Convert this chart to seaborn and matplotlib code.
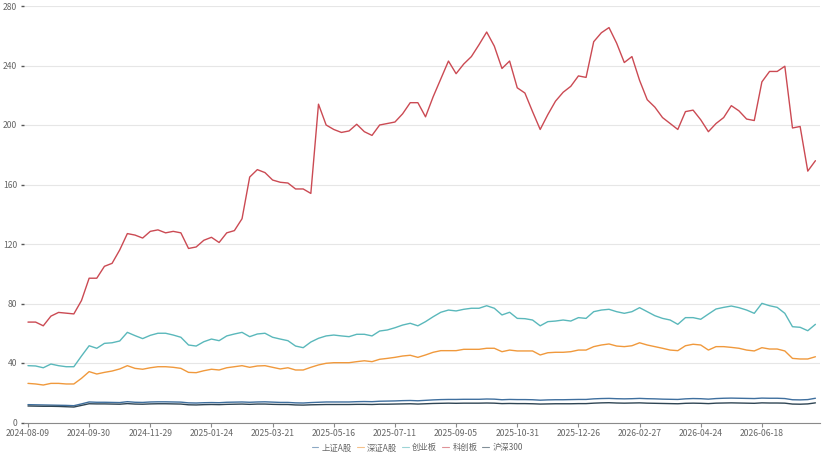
import numpy as np
import pandas as pd
import matplotlib
matplotlib.use("Agg")
import matplotlib.pyplot as plt
import seaborn as sns

series_names = ["上证A股", "深证A股", "创业板", "科创板", "沪深300"]

tick_labels = ["2024-08-09", "2024-09-30", "2024-11-29", "2025-01-24", "2025-03-21",
               "2025-05-16", "2025-07-11", "2025-09-05", "2025-10-31", "2025-12-26",
               "2026-02-27", "2026-04-24", "2026-06-18"]
tick_step = 8

kechuang = [67.5, 67.5, 65, 71.5, 74, 73.5, 73, 82, 97, 97,
            105, 107, 116, 127, 126, 124, 128.5, 129.5, 127.5, 128.5,
            127.5, 117, 118, 122.5, 124.5, 121, 127.5, 129, 137, 165,
            170, 168, 163, 161.5, 161, 157, 157, 154, 214, 200,
            197, 195, 196, 200.5, 195.5, 193, 200, 201, 202, 207.5,
            215, 215, 205.5, 219, 231, 243, 234.5, 241, 246, 254,
            262.5, 253, 238, 243, 225, 221.5, 209, 197, 207, 216,
            222, 226, 233, 232, 256, 262, 265.5, 255, 242, 246,
            230, 217, 212, 205, 201, 197, 209, 210, 203.5, 195.5,
            201, 205, 213, 209.5, 204, 203, 229, 236, 236, 239.5,
            198, 199, 169, 176]

chuangye = [38.2, 38, 36.8, 39.3, 38.2, 37.5, 37.5, 44.7, 51.6, 49.9,
            53.2, 53.6, 54.8, 60.6, 58.4, 56.4, 58.6, 60, 60, 58.8,
            57.3, 52.1, 51.4, 54.3, 56.1, 55, 58.2, 59.5, 60.6, 57.7,
            59.5, 60, 57.3, 56.1, 55, 51.4, 50.3, 54.1, 56.6, 58.2,
            58.8, 58.2, 57.7, 59.3, 59.3, 58.2, 61.5, 62.2, 63.7, 65.5,
            66.7, 65, 67.8, 71.1, 74.1, 75.6, 75, 76.1, 76.8, 76.8,
            78.5, 76.8, 72.3, 74.1, 70, 69.8, 68.9, 65, 67.8, 68.2,
            68.9, 68.2, 70.5, 70, 74.5, 75.6, 76.1, 74.5, 73.4, 74.5,
            77.2, 74.5, 71.8, 70, 68.9, 66, 70.5, 70.5, 69.4, 72.9,
            76.3, 77.4, 78.3, 77.2, 75.6, 73.4, 80.1, 78.5, 77.4, 73.4,
            64.4, 64, 61.7, 66]

shenzheng = [26.3, 25.9, 25.2, 26.3, 26.3, 25.9, 25.9, 29.7, 34.2, 32.6,
             33.7, 34.6, 36, 38.2, 36.4, 35.8, 36.8, 37.5, 37.5, 37.1,
             36.4, 33.7, 33.5, 34.8, 35.8, 35.3, 36.8, 37.5, 38.2, 37.1,
             38, 38.2, 37.1, 36, 36.8, 35.3, 35.3, 37.1, 38.7, 39.8,
             40.2, 40.2, 40.2, 40.9, 41.5, 40.9, 42.5, 43.1, 43.8, 44.7,
             45.2, 43.8, 45.4, 47.2, 48.3, 48.3, 48.3, 49.2, 49.2, 49.2,
             49.9, 49.9, 47.6, 48.7, 48.1, 48.1, 48.1, 45.4, 46.9, 47.2,
             47.2, 47.6, 48.7, 48.7, 51, 52.1, 52.8, 51.4, 51, 51.6,
             53.6, 52.1, 51, 49.9, 48.7, 48.3, 51.6, 52.6, 52.1, 48.7,
             51, 51, 50.5, 49.9, 48.7, 48.1, 50.3, 49.4, 49.4, 48.1,
             43.1, 42.7, 42.7, 44.2]

shangzheng = [12.0, 11.9, 11.8, 11.7, 11.6, 11.5, 11.3, 12.5, 13.8, 13.6,
              13.6, 13.5, 13.4, 14.0, 13.6, 13.5, 13.8, 13.9, 13.9, 13.8,
              13.7, 13.2, 13.1, 13.3, 13.4, 13.3, 13.6, 13.7, 13.8, 13.6,
              13.8, 13.9, 13.7, 13.5, 13.5, 13.2, 13.1, 13.4, 13.6, 13.8,
              13.8, 13.8, 13.8, 14.0, 14.1, 14.0, 14.3, 14.4, 14.5, 14.7,
              14.8, 14.6, 14.9, 15.2, 15.4, 15.5, 15.5, 15.6, 15.6, 15.6,
              15.8, 15.7, 15.3, 15.5, 15.4, 15.4, 15.3, 15.0, 15.2, 15.3,
              15.3, 15.4, 15.5, 15.5, 15.9, 16.1, 16.2, 16.0, 15.9, 16.0,
              16.2, 16.0, 15.9, 15.7, 15.6, 15.5, 15.9, 16.1, 16.0, 15.7,
              16.1, 16.3, 16.4, 16.3, 16.2, 16.1, 16.4, 16.3, 16.3, 16.1,
              15.3, 15.2, 15.4, 16.3]

hs300 = [11.1, 11.0, 10.9, 10.9, 10.8, 10.6, 10.4, 11.5, 12.6, 12.5,
         12.5, 12.4, 12.3, 12.7, 12.4, 12.3, 12.5, 12.6, 12.6, 12.5,
         12.4, 11.9, 11.8, 12.0, 12.1, 12.0, 12.2, 12.3, 12.4, 12.2,
         12.4, 12.4, 12.2, 12.1, 12.1, 11.8, 11.7, 11.9, 12.0, 12.1,
         12.1, 12.1, 12.1, 12.2, 12.2, 12.1, 12.3, 12.3, 12.4, 12.5,
         12.6, 12.4, 12.6, 12.8, 12.9, 13.0, 12.9, 13.0, 13.0, 13.0,
         13.1, 13.0, 12.7, 12.8, 12.7, 12.7, 12.6, 12.4, 12.5, 12.6,
         12.6, 12.6, 12.7, 12.7, 13.0, 13.2, 13.3, 13.1, 13.0, 13.1,
         13.2, 13.0, 12.9, 12.8, 12.7, 12.6, 12.9, 13.0, 12.9, 12.7,
         13.0, 13.1, 13.2, 13.1, 13.0, 12.9, 13.2, 13.1, 13.1, 13.0,
         12.4, 12.3, 12.5, 13.2]

values = {"上证A股": shangzheng, "深证A股": shenzheng, "创业板": chuangye,
          "科创板": kechuang, "沪深300": hs300}
palette = {"上证A股": "#3f6f9e", "深证A股": "#f0993c", "创业板": "#5ab8bb",
           "科创板": "#cb4a53", "沪深300": "#2f4554"}

frames = []
for name in series_names:
    v = values[name]
    frames.append(pd.DataFrame({"idx": np.arange(len(v)), "value": v, "series": name}))
df = pd.concat(frames, ignore_index=True)

sns.set_theme(style="white")
plt.rcParams['font.family'] = ['Noto Sans CJK SC', 'DejaVu Sans']

fig = plt.figure(figsize=(8.31, 4.53), dpi=100)
W, H = 831, 453
left, right, top, bottom = 24, 820, 6, 422.5
ax = fig.add_axes([left / W, 1 - bottom / H, (right - left) / W, (bottom - top) / H])

sns.lineplot(data=df, x="idx", y="value", hue="series", hue_order=series_names,
             palette=palette, linewidth=1.0, ax=ax, legend=True)

ax.set_xlim(-0.52, 103.6)
ax.set_ylim(0, 280)
ax.set_yticks(np.arange(0, 281, 40))
ax.set_xticks(np.arange(len(tick_labels)) * tick_step)
ax.set_xticklabels(tick_labels)
ax.set_xlabel("")
ax.set_ylabel("")
ax.grid(axis="y", color="#e6e6e6", linewidth=0.8)
ax.grid(axis="x", visible=False)
ax.set_axisbelow(True)
for s in ["top", "right", "left"]:
    ax.spines[s].set_visible(False)
ax.spines["bottom"].set_color("#8a8a8a")
ax.spines["bottom"].set_linewidth(0.8)
ax.tick_params(axis="y", length=2, width=1, color="#555555", pad=3,
               labelsize=6.2, labelcolor="#666666", left=True)
ax.tick_params(axis="x", length=3, width=0.8, color="#8a8a8a", pad=2,
               labelsize=6.2, labelcolor="#666666", bottom=True)

leg = ax.legend(loc="center", bbox_to_anchor=(0.494, -0.061), ncol=5,
                frameon=False, fontsize=6, handlelength=0.8, handletextpad=0.4,
                columnspacing=0.6, labelcolor="#666666", borderpad=0.1)
for line in leg.get_lines():
    line.set_linewidth(0.8)
    line.set_alpha(0.6)

fig.savefig("out.png", dpi=100)
